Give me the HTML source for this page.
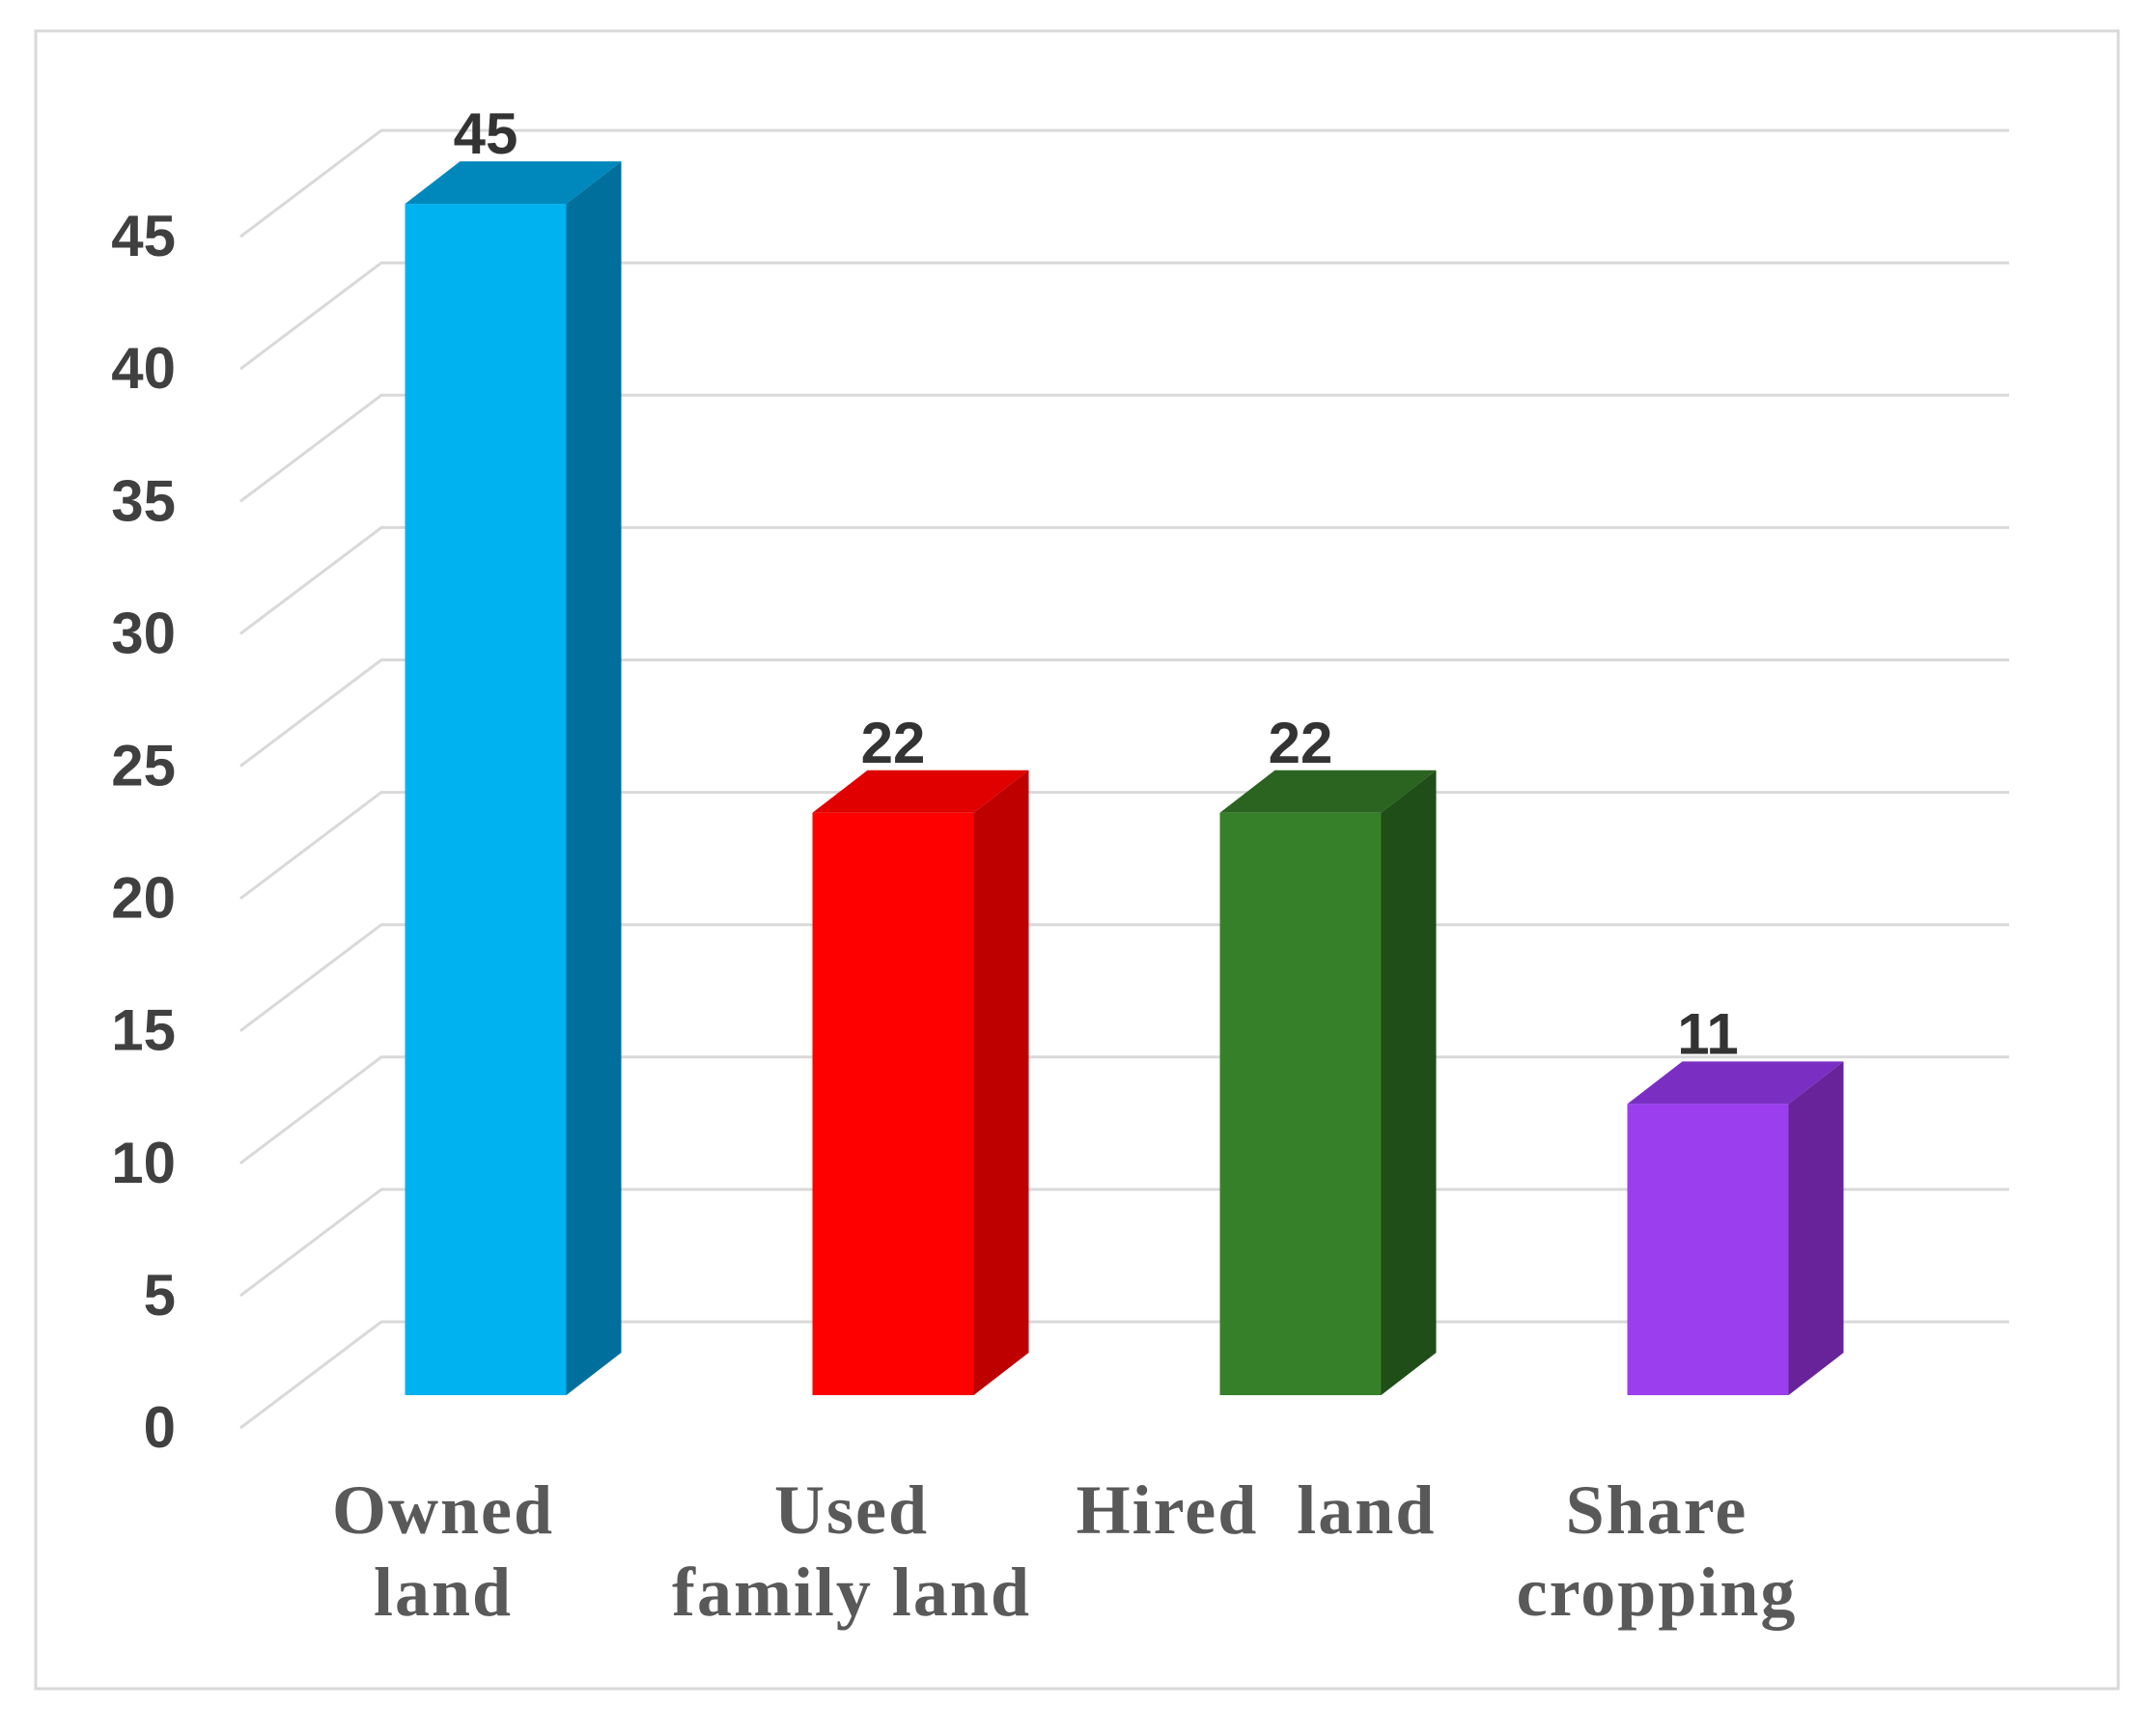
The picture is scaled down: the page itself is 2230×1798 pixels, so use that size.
<!DOCTYPE html>
<html><head><meta charset="utf-8"><style>
html,body{margin:0;padding:0;background:#fff;}
svg{display:block;}
text{white-space:pre;}
</style></head><body>
<svg id="chart" width="2230" height="1798" viewBox="0 0 2230 1798" xmlns="http://www.w3.org/2000/svg">
<rect x="37" y="32" width="2157" height="1717" fill="#fff" stroke="#d9d9d9" stroke-width="3"/>
<g id="grid"></g><g id="yticks"></g><g id="bars"></g><g id="vals"></g><g id="cats"></g>
</svg>
<script>
const categories = [["Owned","land"],["Used","family land"],["Hired  land"],["Share","cropping"]];
const values = [45, 22, 22, 11];
const tickValues = [0,5,10,15,20,25,30,35,40,45];
const valueLabels = ["45","22","22","11"];
const faceColors = ["#00B2F0","#FF0000","#37802A","#9B3FEE"];
const sideColors = ["#006F9C","#BF0000","#1F4E18","#68239A"];
const topColors = ["#0088BC","#E00000","#2A6420","#7A2FC2"];

const NS="http://www.w3.org/2000/svg";
const base=1445, perUnit=27.42;
const y=v=>base-v*perUnit;
const xc=i=>503+i*422;
const bw=167, dx=57, dy=44;
function mk(tag,attrs,parent,txt){const e=document.createElementNS(NS,tag);for(const k in attrs)e.setAttribute(k,attrs[k]);if(txt!==undefined)e.textContent=txt;document.getElementById(parent).appendChild(e);return e;}

tickValues.forEach(t=>{
  const by=y(t)-76, fx=249, fy=y(t)+34;
  const g=mk('polyline',{points:`${fx},${fy} ${395},${by} ${2081},${by}`,fill:'none',stroke:'#d9d9d9','stroke-width':3},'grid');
  
  
  const tx=mk('text',{x:182,y:fy+20,'text-anchor':'end','font-family':'"Liberation Sans",sans-serif','font-weight':'bold','font-size':60,fill:'#404040'},'yticks',String(t));
  
  
});

values.forEach((v,i)=>{
  const l=xc(i)-bw/2, r=l+bw, t=y(v);
  const f=mk('rect',{x:l,y:t,width:bw,height:base-t,fill:faceColors[i]},'bars');
  
  
  const s=mk('polygon',{points:`${r},${t} ${r+dx},${t-dy} ${r+dx},${base-dy} ${r},${base}`,fill:sideColors[i]},'bars');
  
  
  const tp=mk('polygon',{points:`${l},${t} ${l+dx},${t-dy} ${r+dx},${t-dy} ${r},${t}`,fill:topColors[i]},'bars');
  
  
  const lb=mk('text',{x:xc(i),y:t-52,'text-anchor':'middle','font-family':'"Liberation Sans",sans-serif','font-weight':'bold','font-size':60,fill:'#333'},'vals',valueLabels[i]);
  
  
});

const catX=[459,882,1301,1716];
categories.forEach((lines,i)=>{
  lines.forEach((ln,j)=>{
    const c=mk('text',{x:catX[i],y:1588+j*85,'text-anchor':'middle','font-family':'"Liberation Serif",serif','font-weight':'bold','font-size':72,'letter-spacing':2,fill:'#595959'},'cats',ln);
    
    
  });
});
</script>
</body></html>
